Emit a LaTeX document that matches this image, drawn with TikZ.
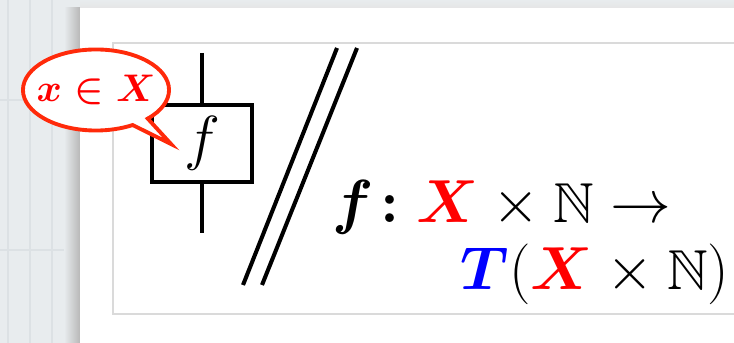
\documentclass[tikz,border=0pt]{standalone}
\usepackage{amssymb}
\usepackage{bm}
\usetikzlibrary{shapes.callouts,positioning}
\definecolor{bgGray}{HTML}{E8ECEE}
\definecolor{gridGray}{HTML}{DCE1E4}
\definecolor{frameGray}{HTML}{DADADA}
\definecolor{bubbleRed}{HTML}{FF2A0A}
\definecolor{setRed}{HTML}{FF0000}
\definecolor{monadBlue}{HTML}{0000FF}

\begin{document}
\begin{tikzpicture}[
    x=0.01cm, y=-0.01cm,
    wire/.style={line width=0.9pt},
    fbox/.style={draw, line width=0.9pt, fill=white, minimum width=1cm, minimum height=0.77cm, inner sep=0pt, font=\fontsize{16.5}{19}\selectfont},
    bubble/.style={ellipse callout, draw=bubbleRed, line width=1.1pt, fill=white, text=setRed, minimum width=1.46cm, minimum height=0.81cm, inner sep=0pt, font=\fontsize{10.8}{13}\selectfont\boldmath},
    slash/.style={line width=1.15pt},
    formula/.style={anchor=base west, inner sep=0pt, font=\fontsize{16}{19}\selectfont}
  ]
    \clip (0,0) rectangle (734,343);
    % backdrop
    \fill[bgGray] (0,0) rectangle (734,343);
    \foreach \gx in {8,30,52} \draw[gridGray] (\gx,0) -- (\gx,343);
    \foreach \gy in {100,250} \draw[gridGray] (0,\gy) -- (80,\gy);
    \shade[left color=bgGray, right color=black!28] (64,8) rectangle (80,343);
    \shade[top color=bgGray, bottom color=black!10] (80,0) rectangle (734,8);
    \fill[white] (80,8) rectangle (734,343);
    \draw[frameGray] (740,43) -- (113,43) -- (113,314) -- (740,314);

    % string diagram
    \node[fbox] (fun) at (202,143.5) {$f$};
    \coordinate (wtop) at (202,53);
    \coordinate (wbot) at (202,233);
    \draw[wire] (wtop) -- (fun);
    \draw[wire] (fun) -- (wbot);
    \node[bubble, callout absolute pointer={(171,144)}] (elem) at (96,90) {\makebox[0pt]{$x \in X$}};
    \draw[slash] (337,48) -- (243,285);
    \draw[slash] (357,48) -- (262,285);

    % type
    \node[formula] (sig) at (332,222) {$\bm{f}\mskip2mu{\bm{:}}\mskip5mu\textcolor{setRed}{\bm{X}}\times\mathbb{N}\to$};
    \node[formula] (cod) at (460,289) {$\textcolor{monadBlue}{\bm{T}}(\textcolor{setRed}{\bm{X}}\times\mathbb{N})$};
  \end{tikzpicture}
\end{document}
